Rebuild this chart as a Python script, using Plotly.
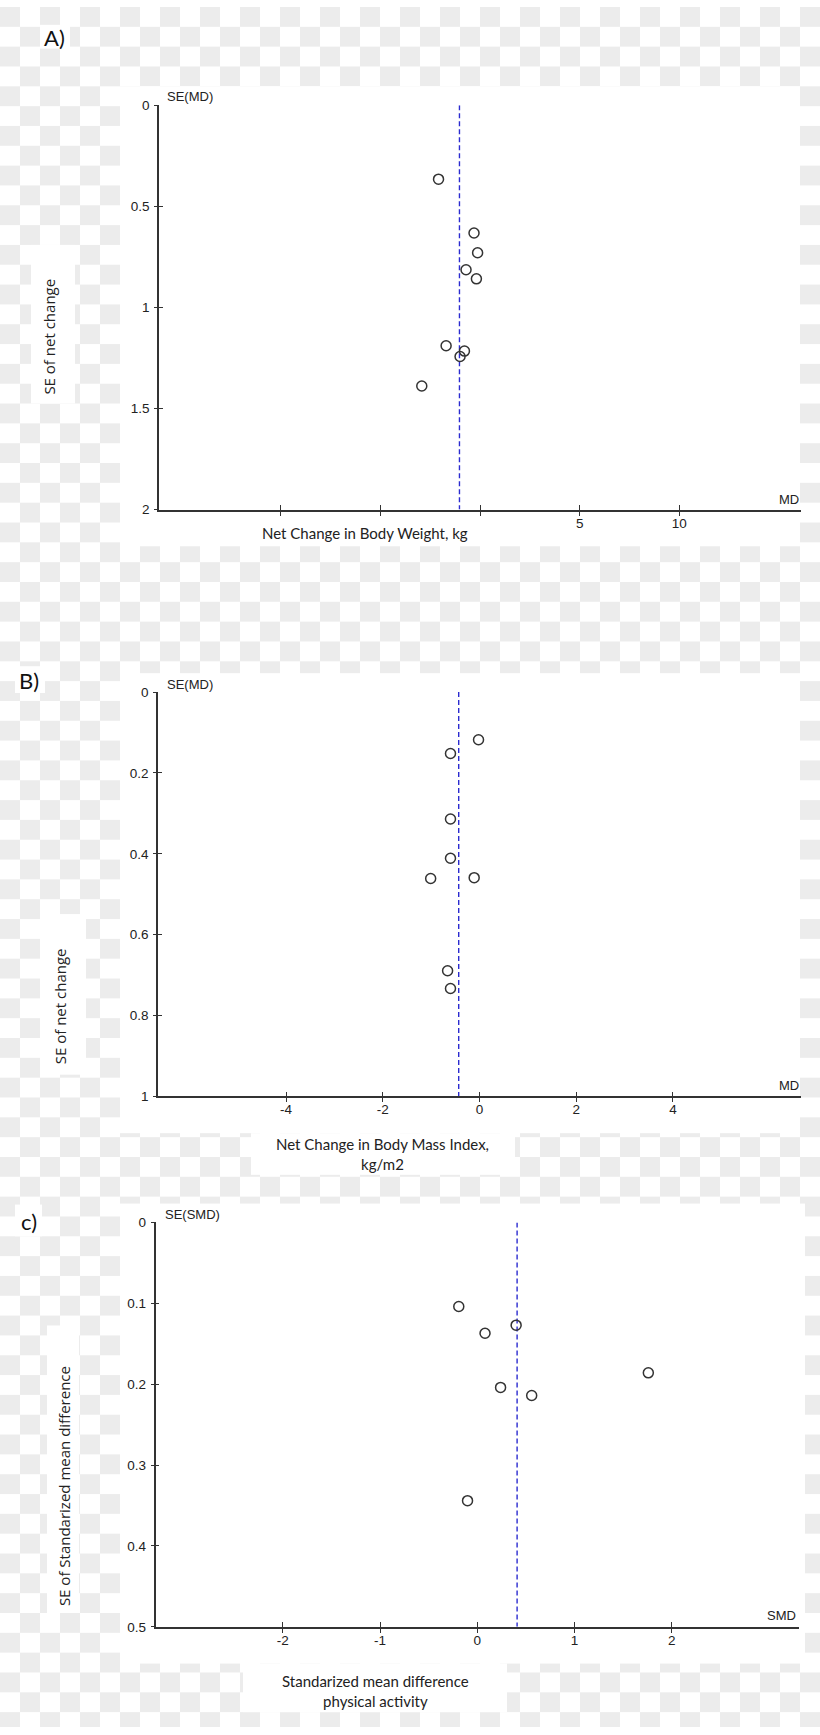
import base64
import plotly.graph_objects as go

W, H = 820, 1735

# ---------------- data ----------------
# Panel A: net change in body weight (kg)
a_md = [-2.08, -0.30, -0.12, -0.70, -0.18, -1.70, -0.78, -1.00, -2.92]
a_se = [0.366, 0.632, 0.730, 0.814, 0.859, 1.190, 1.216, 1.243, 1.389]
a_pooled = -1.03
a_yticks = [0, 0.5, 1, 1.5, 2]
a_ytext = ["0", "0.5", "1", "1.5", "2"]
a_xticks = [-10, -5, 0, 5, 10]
a_xtext = ["", "", "", "5", "10"]

# Panel B: net change in BMI (kg/m2)
b_md = [-0.02, -0.60, -0.60, -0.60, -1.01, -0.11, -0.66, -0.60]
b_se = [0.118, 0.152, 0.314, 0.411, 0.461, 0.459, 0.689, 0.733]
b_pooled = -0.43
b_yticks = [0, 0.2, 0.4, 0.6, 0.8, 1]
b_ytext = ["0", "0.2", "0.4", "0.6", "0.8", "1"]
b_xticks = [-4, -2, 0, 2, 4]
b_xtext = ["-4", "-2", "0", "2", "4"]

# Panel C: standardized mean difference, physical activity
c_smd = [-0.19, 0.08, 0.40, 1.76, 0.24, 0.56, -0.10]
c_se = [0.104, 0.137, 0.127, 0.186, 0.204, 0.214, 0.344]
c_pooled = 0.41
c_yticks = [0, 0.1, 0.2, 0.3, 0.4, 0.5]
c_ytext = ["0", "0.1", "0.2", "0.3", "0.4", "0.5"]
c_xticks = [-2, -1, 0, 1, 2]
c_xtext = ["-2", "-1", "0", "1", "2"]

# ---------------- helpers ----------------
def px(x):
    return x / W

def py(y):
    return 1 - y / H

AXC = "#333333"
TICKFONT = dict(family="Liberation Sans, Arial, sans-serif", size=13.5, color="#222222")
CORNERFONT = dict(family="Liberation Sans, Arial, sans-serif", size=13, color="#222222")
TITLEFONT_X = dict(family="Lato, sans-serif", size=15, color="#222222")
TITLEFONT_Y = dict(family="Open Sans, sans-serif", size=15, color="#222222")
LETTERFONT = dict(family="Lato, sans-serif", size=22, color="#111111")

# ---------------- background (transparency checkerboard with white cards) ----------------
white_cards = [
    (120, 80, 800, 544), (31, 240, 75, 400), (40, 18, 70, 42),
    (120, 672, 800, 1136), (251, 1136, 515, 1178), (40, 915, 86, 1077), (15, 665, 45, 692),
    (120, 1207, 805, 1671), (243, 1671, 507, 1720), (47, 1330, 79, 1620), (15, 1208, 42, 1240),
]
rects = "".join(
    f'<rect x="{x0}" y="{y0}" width="{x1 - x0}" height="{y1 - y0}" fill="#ffffff"/>'
    for x0, y0, x1, y1 in white_cards)
svg = (
    f'<svg xmlns="http://www.w3.org/2000/svg" width="{W}" height="{H}" viewBox="0 0 {W} {H}">'
    '<defs><pattern id="c" width="40" height="40" patternUnits="userSpaceOnUse">'
    '<rect width="40" height="40" fill="#ffffff"/>'
    '<rect width="20" height="20" fill="#ececec"/>'
    '<rect x="20" y="20" width="20" height="20" fill="#ececec"/>'
    '</pattern></defs>'
    f'<rect width="{W}" height="{H}" fill="url(#c)"/>' + rects + '</svg>')
bg_src = "data:image/svg+xml;base64," + base64.b64encode(svg.encode()).decode()

panels = [
    dict(x=a_md, y=a_se, pooled=a_pooled, xt=a_xticks, xtt=a_xtext, yt=a_yticks, ytt=a_ytext,
         xr=[-16.1, 16.1], yr=[2, 0], xd=(159, 801), yd=(99, 507)),
    dict(x=b_md, y=b_se, pooled=b_pooled, xt=b_xticks, xtt=b_xtext, yt=b_yticks, ytt=b_ytext,
         xr=[-6.65, 6.65], yr=[1, 0], xd=(158, 801), yd=(691, 1099)),
    dict(x=c_smd, y=c_se, pooled=c_pooled, xt=c_xticks, xtt=c_xtext, yt=c_yticks, ytt=c_ytext,
         xr=[-3.31, 3.31], yr=[0.5, 0], xd=(155.5, 799), yd=(1226, 1634)),
]

fig = go.Figure()
layout = dict(
    width=W, height=H, autosize=False,
    margin=dict(l=0, r=0, t=0, b=0),
    paper_bgcolor="white", plot_bgcolor="rgba(0,0,0,0)",
    showlegend=False,
    images=[dict(source=bg_src, xref="paper", yref="paper", x=0, y=1, sizex=1, sizey=1,
                 xanchor="left", yanchor="top", sizing="stretch", layer="below")],
)

for i, p in enumerate(panels):
    n = i + 1
    xa = "x" if n == 1 else f"x{n}"
    ya = "y" if n == 1 else f"y{n}"
    on = n + 3
    xo = f"x{on}"
    yo = f"y{on}"
    xdom = [px(p["xd"][0]), px(p["xd"][1])]
    ydom = [py(p["yd"][1]), py(p["yd"][0])]

    fig.add_trace(go.Scatter(
        x=[p["pooled"], p["pooled"]], y=[p["yr"][1], p["yr"][0]],
        mode="lines", line=dict(color="#2b2bd0", width=1.4, dash="5px,3px"),
        xaxis=xa, yaxis=ya, hoverinfo="skip"))
    fig.add_trace(go.Scatter(
        x=p["x"], y=p["y"], mode="markers",
        marker=dict(symbol="circle-open", size=10, color="#333333", line=dict(width=1.5)),
        xaxis=xa, yaxis=ya, cliponaxis=False))
    fig.add_trace(go.Scatter(x=[None], y=[None], xaxis=xo, yaxis=yo,
                             mode="markers", hoverinfo="skip"))

    common_x = dict(domain=xdom, range=p["xr"], tickmode="array", tickvals=p["xt"],
                    showgrid=False, zeroline=False, fixedrange=True)
    common_y = dict(domain=ydom, range=p["yr"], tickmode="array", tickvals=p["yt"],
                    showgrid=False, zeroline=False, fixedrange=True)

    # main axes: labels + inner half of the crossing ticks
    layout["xaxis" if n == 1 else f"xaxis{n}"] = dict(
        common_x, anchor=ya, ticktext=p["xtt"], ticks="inside", ticklen=5,
        tickwidth=1.3, tickcolor=AXC, showline=True, linecolor=AXC, linewidth=1.5,
        tickfont=TICKFONT)
    layout["yaxis" if n == 1 else f"yaxis{n}"] = dict(
        common_y, anchor=xa, ticktext=p["ytt"], ticks="inside", ticklen=4,
        tickwidth=1.3, tickcolor=AXC, showline=True, linecolor=AXC, linewidth=1.5,
        tickfont=TICKFONT, ticklabelstandoff=5)
    # overlay axes: outer half of the crossing ticks
    layout[f"xaxis{on}"] = dict(
        common_x, anchor=ya, overlaying=xa, side="bottom", ticks="outside", ticklen=5,
        tickwidth=1.3, tickcolor=AXC, showticklabels=False, showline=False)
    layout[f"yaxis{on}"] = dict(
        common_y, anchor=xa, overlaying=ya, side="left", ticks="outside", ticklen=4,
        tickwidth=1.3, tickcolor=AXC, showticklabels=False, showline=False)

ann = []

def add_text(text, x, y, font, xanchor="center", yanchor="middle", angle=0):
    ann.append(dict(text=text, x=px(x), y=py(y), xref="paper", yref="paper",
                    xanchor=xanchor, yanchor=yanchor, showarrow=False,
                    font=font, textangle=angle))

add_text("A)", 54, 31, LETTERFONT)
add_text("B)", 29.5, 679, LETTERFONT)
add_text("c)", 29, 1225, LETTERFONT)

add_text("SE(MD)", 165, 90, CORNERFONT, xanchor="left")
add_text("MD", 801, 497, CORNERFONT, xanchor="right")
add_text("SE(MD)", 165, 683, CORNERFONT, xanchor="left")
add_text("MD", 801, 1088, CORNERFONT, xanchor="right")
add_text("SE(SMD)", 163, 1218, CORNERFONT, xanchor="left")
add_text("SMD", 798, 1623, CORNERFONT, xanchor="right")

add_text("Net Change in Body Weight, kg", 365, 531, TITLEFONT_X)
add_text("SE of net change", 49.5, 333, TITLEFONT_Y, angle=-90)
add_text("Net Change in Body Mass Index,<br>kg/m2", 382, 1157, TITLEFONT_X)
add_text("SE of net change", 60, 1008, TITLEFONT_Y, angle=-90)
add_text("Standarized mean difference<br>physical activity", 375, 1699, TITLEFONT_X)
add_text("SE of Standarized mean difference", 64, 1492, TITLEFONT_Y, angle=-90)

layout["annotations"] = ann
fig.update_layout(**layout)

fig.write_html("out.html", config={"displayModeBar": False})
